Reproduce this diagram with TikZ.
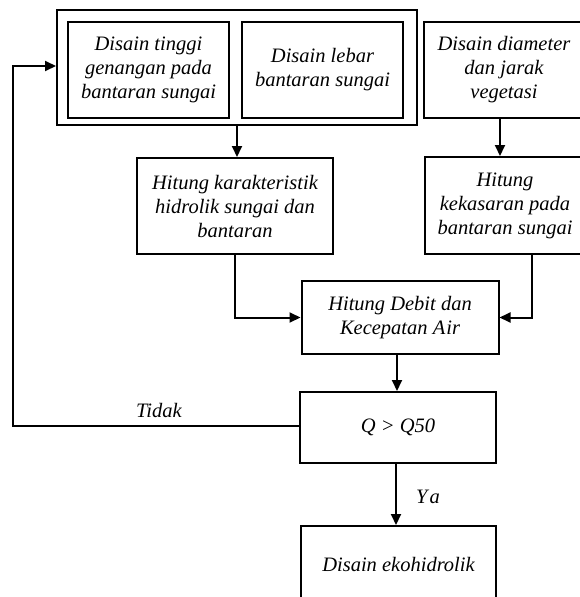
\documentclass[tikz,border=0pt]{standalone}
\usepackage{fontspec}
\setmainfont{Liberation Serif}
\usetikzlibrary{arrows.meta,calc}
\begin{document}
\begin{tikzpicture}[x=1pt,y=-1pt,
  box/.style={draw,line width=2pt,inner sep=0pt,align=center,
    font=\fontsize{20.5}{24}\selectfont\itshape},
  lbl/.style={font=\fontsize{20.5}{24}\selectfont\itshape,inner sep=0pt},
  arr/.style={line width=2pt,-{Triangle[length=11pt,width=10pt]}}]
\useasboundingbox (0,0) rectangle (580,597);
\clip (0,0) rectangle (580,597);
\node[box,minimum width=360,minimum height=115] (outer) at (237,67.5) {};
\node[box,minimum width=161,minimum height=96] (tinggi) at (148.5,70) {Disain tinggi\\genangan pada\\bantaran sungai};
\node[box,minimum width=161,minimum height=96] (lebar) at (322.5,70) {Disain lebar\\bantaran sungai};
\node[box,minimum width=160,minimum height=96] (diam) at (504,70) {Disain diameter\\dan jarak\\vegetasi};
\node[box,minimum width=196,minimum height=96] (kar) at (235,206) {Hitung karakteristik\\hidrolik sungai dan\\bantaran};
\node[box,minimum width=160,minimum height=97] (kek) at (505,205.5) {Hitung\\kekasaran pada\\bantaran sungai};
\node[box,minimum width=197,minimum height=73] (deb) at (400,317.5) {Hitung Debit dan\\Kecepatan A\kern1pt ir};
\node[box,minimum width=196,minimum height=71] (q) at (398,427.5) {Q > Q50};
\node[box,minimum width=195,minimum height=76] (eko) at (398.5,564) {Disain ekohidrolik};
\coordinate (lp) at (13,0);
\draw[arr] (outer.south) -- (outer.south |- kar.north);
\draw[arr] ([xshift=-4]diam.south) -- ([xshift=-4]diam.south |- kek.north);
\draw[arr] (kar.south) |- (deb.west);
\draw[arr] ([xshift=27]kek.south) |- (deb.east);
\draw[arr] ([xshift=-3]deb.south) -- ([xshift=-3]deb.south |- q.north);
\draw[arr] ([xshift=-2]q.south) -- ([xshift=-2]q.south |- eko.north);
\draw[arr] ([yshift=2]q.west) -- ([yshift=2]q.west -| lp) |- ([yshift=1.5]outer.west);
\node[lbl] (tidak) at (159,410) {Tidak};
\node[lbl] (ya) at (428,497) {Y\kern2pt a};
\end{tikzpicture}
\end{document}
